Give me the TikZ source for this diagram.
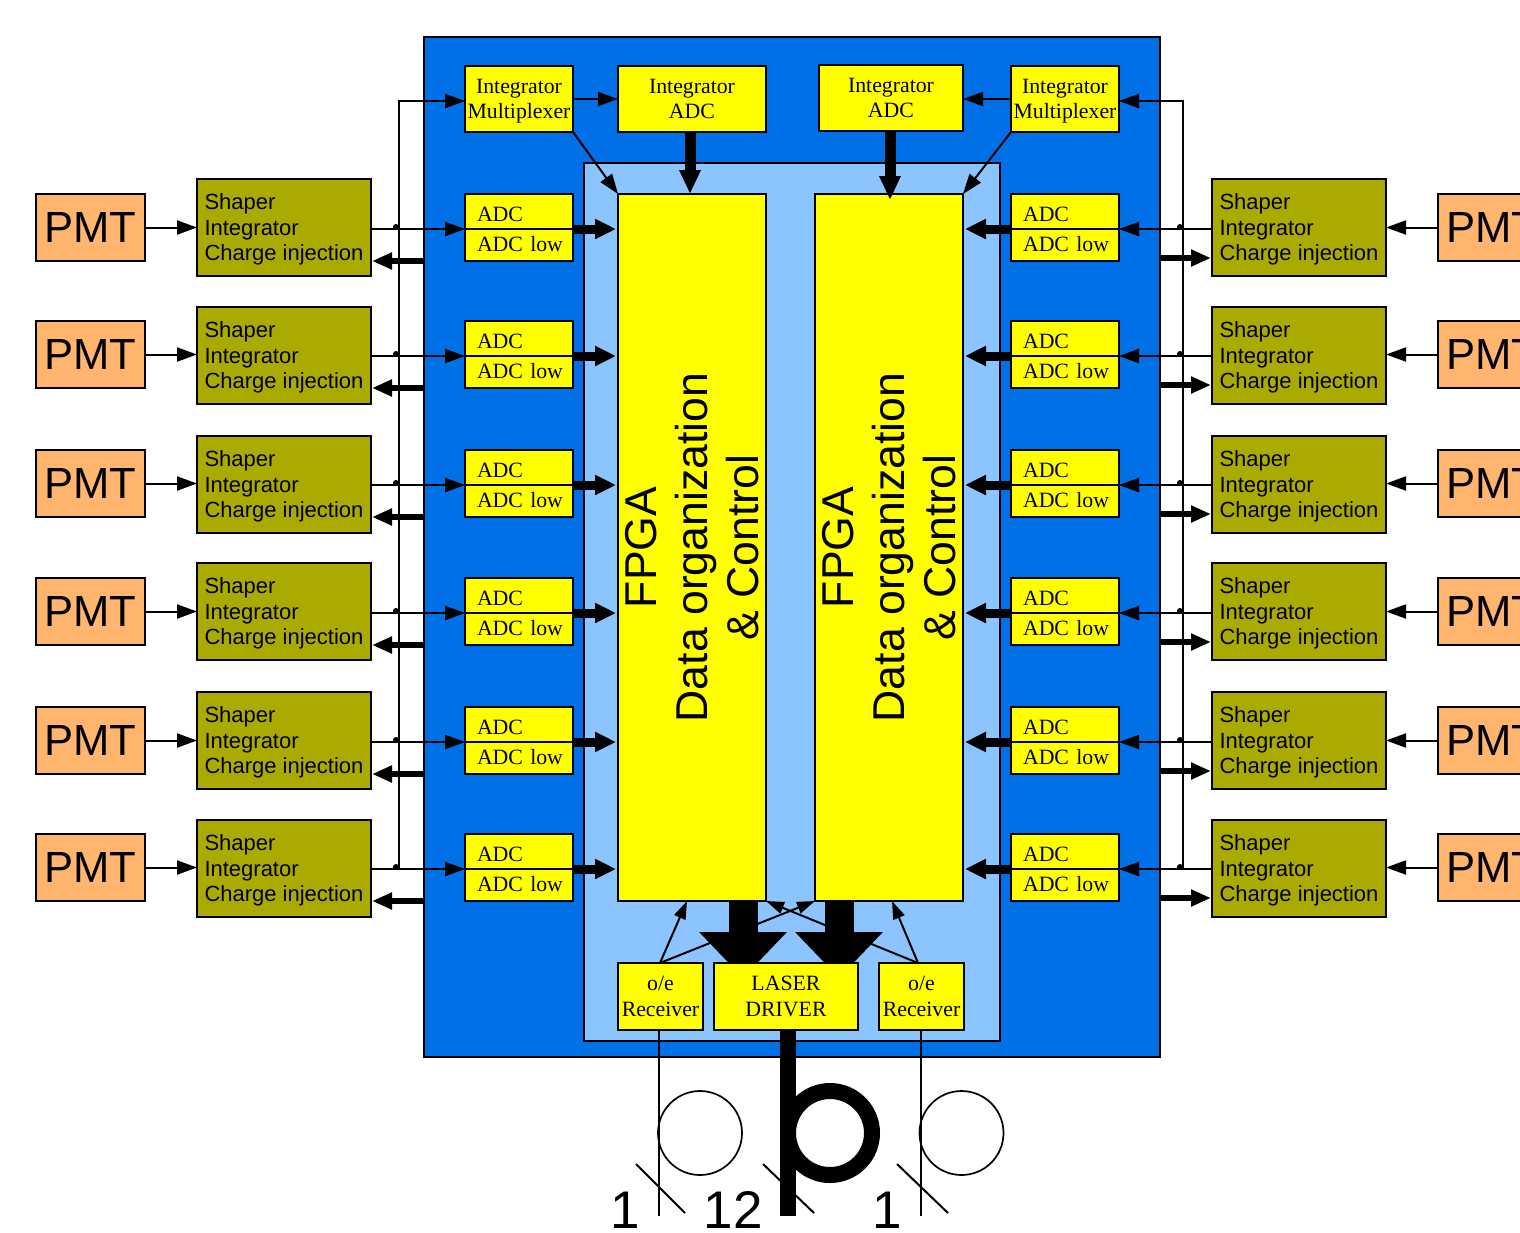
\documentclass[tikz,border=0pt]{standalone}
\usepackage{fontspec}
\setmainfont{Liberation Serif}
\setsansfont{Liberation Sans}
\usetikzlibrary{arrows.meta,calc,positioning}
\definecolor{BoardBlue}{HTML}{0070E6}
\definecolor{FpgaBlue}{HTML}{8CC4FF}
\definecolor{ChipYellow}{HTML}{FFFF00}
\definecolor{ShaperOlive}{HTML}{AAAA00}
\definecolor{PmtOrange}{HTML}{FFB56E}
\tikzset{
  box/.style={draw,line width=1.25pt,outer sep=0pt,inner sep=0pt,anchor=north west},
  pmtbox/.style={box,fill=PmtOrange,minimum width=54.5pt,minimum height=33.5pt,font=\sffamily\fontsize{21.8}{24}\selectfont},
  shaperbox/.style={box,fill=ShaperOlive,minimum width=87pt,minimum height=48.5pt,align=left,text depth=-1.5pt,font=\sffamily\fontsize{11}{12.75}\selectfont},
  chipbox/.style={box,fill=ChipYellow,align=center,text depth=-2pt,font=\fontsize{10.9}{12.75}\selectfont},
  adcbox/.style={box,fill=ChipYellow,minimum width=54pt,text width=47pt,inner xsep=3.5pt,align=left,font=\fontsize{10.9}{12}\selectfont,execute at begin node={\hspace*{2.5pt}}},
  adchigh/.style={adcbox,anchor=south west,minimum height=17.5pt,text height=9.5pt,text depth=0pt},
  adclow/.style={adcbox,anchor=north west,minimum height=16pt,text height=7pt,text depth=1pt},
  fpgabox/.style={box,fill=ChipYellow,minimum width=74pt,minimum height=353.5pt},
  fpgatext/.style={rotate=90,align=center,inner sep=0pt,font=\sffamily\fontsize{22.3}{25.5}\selectfont},
  sigtip/.tip={Triangle[length=10pt,width=7pt]},
  sigline/.style={line width=1pt,-sigtip},
  busline/.style={line width=1.1pt},
  busdot/.style={circle,fill=black,inner sep=0pt,minimum size=3pt},
  dataline/.style={line width=4.5pt,-{Triangle[length=10.5pt,width=9.5pt,sep=1pt]}},
  returnline/.style={line width=2.6pt,-{Triangle[length=10pt,width=8pt,sep=.5pt]}},
  adcline/.style={line width=5.5pt,-{Triangle[length=12pt,width=10pt]}},
  laserline/.style={line width=14.5pt,-{Triangle[length=23pt,width=42.5pt]}},
  fibreline/.style={line width=1pt},
  turn/.style={circle,draw,line width=.85pt,inner sep=0pt,minimum size=42pt},
  countlabel/.style={anchor=base,inner sep=0pt,font=\sffamily\fontsize{26.5}{28}\selectfont}
}
\begin{document}
\begin{tikzpicture}[x=0.5pt,y=-0.5pt]
  \clip (0,0) rectangle (1520,1232);
  \node[box,fill=BoardBlue,minimum width=368pt,minimum height=510pt] (board) at (424,37) {};
  \node[box,fill=FpgaBlue,minimum width=208pt,minimum height=439pt] (fpgaarea) at (584,163) {};

  \node[fpgabox] (fpgaL) at (618,194) {};
  \node[fpgabox] (fpgaR) at (815,194) {};
  \node[fpgatext] (fpgaLtext) at (fpgaL) {FPGA\\Data organization\\\& Control};
  \node[fpgatext] (fpgaRtext) at (fpgaR) {FPGA\\Data organization\\\& Control};

  \node[chipbox,minimum width=54pt,minimum height=33pt] (muxL) at (465,66) {Integrator\\Multiplexer};
  \node[chipbox,minimum width=74pt,minimum height=33pt] (intL) at (618,66) {Integrator\\ADC};
  \node[chipbox,minimum width=72pt,minimum height=33pt] (intR) at (819,65) {Integrator\\ADC};
  \node[chipbox,minimum width=54pt,minimum height=33pt] (muxR) at (1011,66) {Integrator\\Multiplexer};

  \foreach \n/\sy/\py/\my in {1/179/194/229,2/307/321/356,3/436/450/485,4/563/578/613,5/692/707/742,6/820/834/869}{
    \node[pmtbox] (pmtL\n) at (36,\py) {PMT};
    \node[pmtbox] (pmtR\n) at (1438,\py) {PMT};
    \node[shaperbox] (shL\n) at (197,\sy) {Shaper\\Integrator\\Charge injection};
    \node[shaperbox] (shR\n) at (1212,\sy) {Shaper\\Integrator\\Charge injection};
    \node[adchigh] (hiL\n) at (465,\my) {ADC high};
    \node[adclow] (loL\n) at (465,\my) {ADC low};
    \node[adchigh] (hiR\n) at (1011,\my) {ADC high};
    \node[adclow] (loR\n) at (1011,\my) {ADC low};
    \draw[sigline] (pmtL\n) -- (pmtL\n -| shL\n.west);
    \draw[sigline] (pmtR\n) -- (pmtR\n -| shR\n.east);
    \draw[sigline] (hiL\n.south -| shL\n.east) -- (hiL\n.south west);
    \draw[sigline] (hiR\n.south -| shR\n.west) -- (hiR\n.south east);
    \draw[dataline] (hiL\n.south east) -- (hiL\n.south -| fpgaL.west);
    \draw[dataline] (hiR\n.south west) -- (hiR\n.south -| fpgaR.east);
    \draw[returnline] (loL\n.south -| board.west) -- (loL\n.south -| shL\n.east);
    \draw[returnline] ([yshift=1.5pt]loR\n.south -| board.east) -- ([yshift=1.5pt]loR\n.south -| shR\n.west);
    \node[busdot] (dotL\n) at ([xshift=-1.5pt,yshift=1pt]399,\my) {};
    \node[busdot] (dotR\n) at ([xshift=-1.5pt,yshift=1pt]1183,\my) {};
  }

  \coordinate (busL) at (399,101);
  \coordinate (busR) at (1183,101);
  \draw[busline,-sigtip] (busL |- hiL6.south) -- (busL) -- (muxL.west |- busL);
  \draw[busline,-sigtip] (busR |- hiR6.south) -- (busR) -- (muxR.east |- busR);
  \draw[sigline] (muxL.east) -- (intL.west);
  \draw[sigline] (muxR.west) -- (intR.east |- muxR.west);
  \draw[sigline] (muxL.south east) -- (fpgaL.north west);
  \draw[sigline] (muxR.south west) -- (fpgaR.north east);

  \coordinate (intLdrop) at (690,194);
  \coordinate (intRdrop) at (890,200);
  \draw[adcline] (intL.south -| intLdrop) -- (intLdrop);
  \draw[adcline] (intR.south -| intRdrop) -- (intRdrop);

  \coordinate (rxLtop) at (660,963);
  \coordinate (rxRtop) at (918,963);
  \coordinate (fpgaLin) at (687,901);
  \coordinate (fpgaRin) at (892,901);
  \coordinate (laserL) at (743,978);
  \coordinate (laserR) at (839,978);
  \draw[line width=1pt,-{Triangle[length=9pt,width=6pt]}] (rxLtop) -- (fpgaLin);
  \draw[line width=1pt,-{Triangle[length=9pt,width=6pt]}] (rxLtop) -- (fpgaR.south west);
  \draw[line width=1pt,-{Triangle[length=9pt,width=6pt]}] (rxRtop) -- (fpgaRin);
  \draw[line width=1pt,-{Triangle[length=9pt,width=6pt]}] (rxRtop) -- (fpgaL.south east);
  \draw[laserline] (fpgaL.south -| laserL) -- (laserL);
  \draw[laserline] (fpgaR.south -| laserR) -- (laserR);

  \node[chipbox,minimum width=42.5pt,minimum height=33.5pt] (rxL) at (618,963) {o/e\\Receiver};
  \node[chipbox,minimum width=72pt,minimum height=33.5pt] (laser) at (714,963) {LASER\\DRIVER};
  \node[chipbox,minimum width=42.5pt,minimum height=33.5pt] (rxR) at (879,963) {o/e\\Receiver};

  \coordinate (fibreL) at (659,1216);
  \coordinate (fibreM) at (788,1216);
  \coordinate (fibreR) at (921,1216);
  \node[turn] (turnL) at (700,1133) {};
  \node[turn] (turnR) at (961.5,1133) {};
  \node[turn,line width=8pt] (turnM) at (830,1133) {};
  \draw[fibreline] (rxL.south -| fibreL) -- (fibreL);
  \draw[fibreline] (rxR.south -| fibreR) -- (fibreR);
  \draw[line width=8pt] (laser.south -| fibreM) -- (fibreM);
  \draw[fibreline] (636,1164) -- (685,1213);
  \draw[fibreline] (763,1164) -- (814,1213);
  \draw[fibreline] (897,1164) -- (948,1213);
  \node[countlabel] (countL) at (625,1228) {1};
  \node[countlabel] (countM) at (733,1228) {12};
  \node[countlabel] (countR) at (887,1228) {1};
\end{tikzpicture}
\end{document}
